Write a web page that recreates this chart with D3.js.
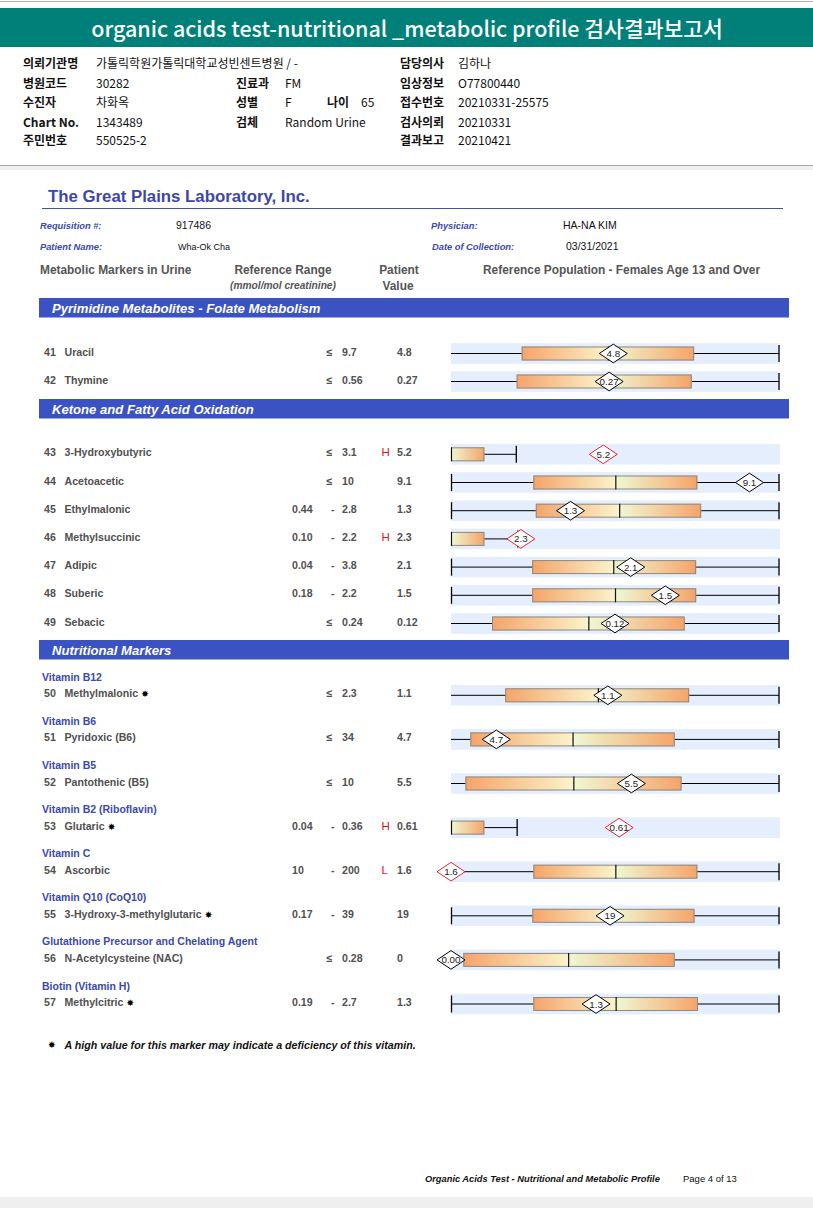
<!DOCTYPE html>
<html><head><meta charset="utf-8">
<script src="https://cdn.jsdelivr.net/npm/d3@7"></script>
<style>
html,body{margin:0;padding:0;background:#fff;}
svg{display:block;}
</style></head><body>
<svg id="c" width="813" height="1208"></svg>
<script>
// ---------- header data ----------
const reportTitle = "organic acids test-nutritional _metabolic profile 검사결과보고서";
const infoCol1Labels = ["의뢰기관명", "병원코드", "수진자", "Chart No.", "주민번호"];
const infoCol1Values = ["가톨릭학원가톨릭대학교성빈센트병원 / -", "30282", "차화옥", "1343489", "550525-2"];
const infoCol2Labels = ["", "진료과", "성별", "검체", ""];
const infoCol2Values = ["", "FM", "F", "Random Urine", ""];
const ageLabel = "나이";
const ageValue = "65";
const infoCol3Labels = ["담당의사", "임상정보", "접수번호", "검사의뢰", "결과보고"];
const infoCol3Values = ["김하나", "O77800440", "20210331-25575", "20210331", "20210421"];

const labName = "The Great Plains Laboratory, Inc.";
const patientLabels = ["Requisition #:", "Patient Name:"];
const patientValues = ["917486", "Wha-Ok Cha"];
const doctorLabels = ["Physician:", "Date of Collection:"];
const doctorValues = ["HA-NA KIM", "03/31/2021"];
const columnHeaders = ["Metabolic Markers in Urine", "Reference Range", "(mmol/mol creatinine)", "Patient", "Value", "Reference Population - Females Age 13 and Over"];

// ---------- markers ----------
const sectionTitles = ["Pyrimidine Metabolites - Folate Metabolism", "Ketone and Fatty Acid Oxidation", "Nutritional Markers"];
const markerSection = [0, 0, 1, 1, 1, 1, 1, 1, 1, 2, 2, 2, 2, 2, 2, 2, 2];
const markerNums = [41, 42, 43, 44, 45, 46, 47, 48, 49, 50, 51, 52, 53, 54, 55, 56, 57];
const markerNames = ["Uracil", "Thymine", "3-Hydroxybutyric", "Acetoacetic", "Ethylmalonic", "Methylsuccinic", "Adipic", "Suberic", "Sebacic",
  "Methylmalonic", "Pyridoxic (B6)", "Pantothenic (B5)", "Glutaric", "Ascorbic", "3-Hydroxy-3-methylglutaric", "N-Acetylcysteine (NAC)", "Methylcitric"];
const vitaminGroups = ["", "", "", "", "", "", "", "", "",
  "Vitamin B12", "Vitamin B6", "Vitamin B5", "Vitamin B2 (Riboflavin)", "Vitamin C", "Vitamin Q10 (CoQ10)", "Glutathione Precursor and Chelating Agent", "Biotin (Vitamin H)"];
const deficiencyMark = [false, false, false, false, false, false, false, false, false, true, false, false, true, false, true, false, true];
const refLowText = ["", "", "", "", "0.44", "0.10", "0.04", "0.18", "", "", "", "", "0.04", "10", "0.17", "", "0.19"];
const refHighText = ["9.7", "0.56", "3.1", "10", "2.8", "2.2", "3.8", "2.2", "0.24", "2.3", "34", "10", "0.36", "200", "39", "0.28", "2.7"];
const flags = ["", "", "H", "", "", "H", "", "", "", "", "", "", "H", "L", "", "", ""];
const values = [4.8, 0.27, 5.2, 9.1, 1.3, 2.3, 2.1, 1.5, 0.12, 1.1, 4.7, 5.5, 0.61, 1.6, 19, 0, 1.3];
const valueText = ["4.8", "0.27", "5.2", "9.1", "1.3", "2.3", "2.1", "1.5", "0.12", "1.1", "4.7", "5.5", "0.61", "1.6", "19", "0", "1.3"];
const diamondText = ["4.8", "0.27", "5.2", "9.1", "1.3", "2.3", "2.1", "1.5", "0.12", "1.1", "4.7", "5.5", "0.61", "1.6", "19", "0.00", "1.3"];

// reference population graph (data units of each marker)
const scaleMin = [0, 0, 0, 0, 0.44, 0, 0.04, 0.18, 0, 0, 0, 0, 0, 10, 0.17, 0, 0.19];
const scaleMax = [9.7, 0.56, 11.2, 10, 2.8, 10.8, 3.8, 2.2, 0.24, 2.3, 34, 10, 1.19, 200, 39, 0.28, 2.7];
const popQ1 = [2.09, 0.112, 0, 2.51, 1.05, 0, 0.97, 0.68, 0.030, 0.38, 2.0, 0.44, 0, 57.7, 9.8, 0.0105, 0.82];
const popMedian = [4.64, 0.265, 0, 5.01, 1.65, 0, 1.90, 1.19, 0.1005, 1.03, 12.6, 3.73, 0, 105.2, 19.2, 0.100, 1.45];
const popQ3 = [7.19, 0.411, 1.14, 7.51, 2.24, 1.10, 2.85, 1.69, 0.171, 1.67, 23.2, 7.03, 0.121, 152.7, 29.0, 0.191, 2.08];
const popWhiskerHi = [9.7, 0.56, 2.23, 10, 2.8, 2.2, 3.8, 2.2, 0.24, 2.3, 34, 10, 0.24, 200, 39, 0.28, 2.7];
const lowCap = [false, false, false, true, true, false, true, true, false, false, false, false, false, true, true, false, true];

const footnote = "A high value for this marker may indicate a deficiency of this vitamin.";
const footerTitle = "Organic Acids Test - Nutritional and Metabolic Profile";
const footerPage = "Page 4 of 13";

// ---------- drawing ----------
const svg = d3.select("#c");
const SANS = "'Liberation Sans', Arial, sans-serif";
const KR = "'Noto Sans CJK KR', sans-serif";
const BLUE = "#3b49ad";
const BAR = "#3a52c2";
const GRAY = "#505050";

// page frame
svg.append("rect").attr("x", 0).attr("y", 0).attr("width", 813).attr("height", 1208).attr("fill", "#fff");
svg.append("line").attr("x1", 0).attr("x2", 813).attr("y1", 1.5).attr("y2", 1.5).attr("stroke", "#b0b0b0");
svg.append("rect").attr("x", 0).attr("y", 8).attr("width", 813).attr("height", 39).attr("fill", "#008078");
svg.append("text").attr("x", 407).attr("y", 37).attr("text-anchor", "middle")
  .attr("font-family", KR).attr("font-size", 21.5).attr("font-weight", 500).attr("fill", "#fff").text(reportTitle);

const infoY = [68, 88, 107, 127, 145];
function info(x, y, t, bold) {
  if (!t) return;
  svg.append("text").attr("x", x).attr("y", y).attr("font-family", KR)
    .attr("font-size", 12).attr("font-weight", bold ? 700 : 400).attr("fill", "#111").text(t);
}
infoY.forEach((y, i) => {
  info(23, y, infoCol1Labels[i], true); info(96, y, infoCol1Values[i], false);
  info(236, y, infoCol2Labels[i], true); info(285, y, infoCol2Values[i], false);
  info(400, y, infoCol3Labels[i], true); info(458, y, infoCol3Values[i], false);
});
info(327, infoY[2], ageLabel, true); info(361, infoY[2], ageValue, false);

svg.append("line").attr("x1", 0).attr("x2", 813).attr("y1", 165.5).attr("y2", 165.5).attr("stroke", "#a8a8a8");
svg.append("rect").attr("x", 0).attr("y", 166).attr("width", 813).attr("height", 4).attr("fill", "#efefef");

// lab header
svg.append("text").attr("x", 48).attr("y", 202).attr("font-family", SANS).attr("font-weight", 700)
  .attr("font-size", 16.8).attr("fill", "#3d47a6").text(labName);
svg.append("line").attr("x1", 42).attr("x2", 783).attr("y1", 208.5).attr("y2", 208.5).attr("stroke", "#4650a0").attr("stroke-width", 1.2);

[229, 250].forEach((y, i) => {
  svg.append("text").attr("x", 40).attr("y", y).attr("font-family", SANS).attr("font-size", 9.3)
    .attr("font-weight", 700).attr("font-style", "italic").attr("fill", BLUE).text(patientLabels[i]);
  svg.append("text").attr("x", i ? 178 : 176).attr("y", y).attr("font-family", SANS).attr("font-size", i ? 9 : 10.5)
    .attr("fill", "#111").text(patientValues[i]);
  svg.append("text").attr("x", i ? 432 : 431).attr("y", y).attr("font-family", SANS).attr("font-size", 9.3)
    .attr("font-weight", 700).attr("font-style", "italic").attr("fill", BLUE).text(doctorLabels[i]);
  svg.append("text").attr("x", i ? 566 : 563).attr("y", y).attr("font-family", SANS).attr("font-size", 10.5)
    .attr("fill", "#111").text(doctorValues[i]);
});

function hdr(x, y, t, anchor, size, italic) {
  svg.append("text").attr("x", x).attr("y", y).attr("text-anchor", anchor).attr("font-family", SANS)
    .attr("font-size", size).attr("font-weight", 700).attr("font-style", italic ? "italic" : "normal")
    .attr("fill", "#555").text(t);
}
hdr(40, 274, columnHeaders[0], "start", 11.9);
hdr(283, 274, columnHeaders[1], "middle", 11.9);
hdr(283, 289, columnHeaders[2], "middle", 10.2, true);
hdr(399, 274, columnHeaders[3], "middle", 11.9);
hdr(398, 290, columnHeaders[4], "middle", 11.9);
hdr(483, 274, columnHeaders[5], "start", 11.9);

// section bars
const barTop = [298, 399, 640];
sectionTitles.forEach((t, s) => {
  svg.append("rect").attr("x", 39).attr("y", barTop[s]).attr("width", 750).attr("height", 19.5).attr("fill", BAR);
  svg.append("text").attr("x", 52).attr("y", barTop[s] + 15).attr("font-family", SANS).attr("font-size", 13.1)
    .attr("font-weight", 700).attr("font-style", "italic").attr("fill", "#fff").text(t);
});

// row layout
const secStart = [353.5, 454.3, 695.3];
const secStep = [28, 28.2, 44.1];
const firstIdx = sectionTitles.map((_, s) => markerSection.indexOf(s));
const rowY = markerNums.map((_, i) => {
  const s = markerSection[i];
  return secStart[s] + (i - firstIdx[s]) * secStep[s];
});

const defs = svg.append("defs");
function grad(id, c0, c1) {
  const g = defs.append("linearGradient").attr("id", id).attr("x1", "0").attr("x2", "1").attr("y1", "0").attr("y2", "0");
  g.append("stop").attr("offset", "0").attr("stop-color", c0);
  g.append("stop").attr("offset", "1").attr("stop-color", c1);
}
const ORANGE = "#f5a469";
grad("gL", ORANGE, "#fbf3cb");
grad("gR", "#eff8d3", ORANGE);

const X0 = 451, X1 = 779;
markerNums.forEach((num, i) => {
  const cy = rowY[i];
  const g = svg.append("g");
  if (vitaminGroups[i]) {
    g.append("text").attr("x", 42).attr("y", cy - 14.5).attr("font-family", SANS).attr("font-size", 10.5)
      .attr("font-weight", 700).attr("fill", BLUE).text(vitaminGroups[i]);
  }
  const ty = cy + 2;
  const txt = (x, t, col, anchor) => g.append("text").attr("x", x).attr("y", ty).attr("font-family", SANS)
    .attr("font-size", 10.6).attr("font-weight", 700).attr("fill", col || GRAY).attr("text-anchor", anchor || "start").text(t);
  txt(44, String(num));
  const nm = txt(64.5, markerNames[i]);
  if (deficiencyMark[i]) {
    nm.append("tspan").attr("font-family", "'DejaVu Sans', sans-serif").attr("font-size", 9).attr("fill", "#000").text(" ✸");
  }
  if (refLowText[i]) { txt(292, refLowText[i]); txt(331, "-"); }
  else { txt(326.5, "≤"); }
  txt(342, refHighText[i]);
  if (flags[i]) txt(381.5, flags[i], "#e0141e").attr("font-weight", 400).attr("font-size", 11.5);
  txt(397, valueText[i]);

  // graph
  const x = d3.scaleLinear().domain([scaleMin[i], scaleMax[i]]).range([X0, X1]).clamp(true);
  g.append("rect").attr("x", X0).attr("y", cy - 10.3).attr("width", X1 - X0 + 1).attr("height", 20.6).attr("fill", "#e5eefc");
  const xs = x(scaleMin[i]), xw = x(popWhiskerHi[i]);
  g.append("line").attr("x1", xs).attr("x2", xw).attr("y1", cy).attr("y2", cy).attr("stroke", "#000").attr("stroke-width", 1);
  g.append("line").attr("x1", xw).attr("x2", xw).attr("y1", cy - 8.5).attr("y2", cy + 8.5).attr("stroke", "#000").attr("stroke-width", 1.3);
  if (lowCap[i]) g.append("line").attr("x1", xs + 0.5).attr("x2", xs + 0.5).attr("y1", cy - 8.5).attr("y2", cy + 8.5).attr("stroke", "#000").attr("stroke-width", 1.3);
  const q1 = x(popQ1[i]), md = x(popMedian[i]), q3 = x(popQ3[i]);
  if (md > q1) g.append("rect").attr("x", q1).attr("y", cy - 7).attr("width", md - q1).attr("height", 14).attr("fill", "url(#gL)");
  g.append("rect").attr("x", md).attr("y", cy - 7).attr("width", q3 - md).attr("height", 14).attr("fill", "url(#gR)");
  g.append("rect").attr("x", q1 + 0.5).attr("y", cy - 6.5).attr("width", q3 - q1 - 1).attr("height", 13).attr("fill", "none").attr("stroke", "#8a8a8a");
  g.append("line").attr("x1", md + 0.5).attr("x2", md + 0.5).attr("y1", cy - 7).attr("y2", cy + 7).attr("stroke", "#111").attr("stroke-width", 1.2);

  const vx = x(values[i]);
  const hw = 14, hh = 9.3;
  g.append("path").attr("d", `M${vx - hw},${cy}L${vx},${cy - hh}L${vx + hw},${cy}L${vx},${cy + hh}Z`)
    .attr("fill", "#fff").attr("stroke", flags[i] ? "#e8242c" : "#000").attr("stroke-width", 1);
  g.append("text").attr("x", vx).attr("y", cy + 3.5).attr("text-anchor", "middle").attr("font-family", SANS)
    .attr("font-size", 9.8).attr("fill", "#222").text(diamondText[i]);
});

// footnote
svg.append("text").attr("x", 48).attr("y", 1048).attr("font-family", "'DejaVu Sans', sans-serif").attr("font-size", 9).attr("fill", "#000").text("✸");
svg.append("text").attr("x", 64.5).attr("y", 1049).attr("font-family", SANS).attr("font-size", 10.7)
  .attr("font-weight", 700).attr("font-style", "italic").attr("fill", "#111").text(footnote);

// footer
svg.append("text").attr("x", 425).attr("y", 1182).attr("font-family", SANS).attr("font-size", 9.3)
  .attr("font-weight", 700).attr("font-style", "italic").attr("fill", "#111").text(footerTitle);
svg.append("text").attr("x", 683).attr("y", 1182).attr("font-family", SANS).attr("font-size", 9.5)
  .attr("fill", "#111").text(footerPage);
svg.append("rect").attr("x", 0).attr("y", 1197).attr("width", 813).attr("height", 11).attr("fill", "#efefef");
</script></body></html>
